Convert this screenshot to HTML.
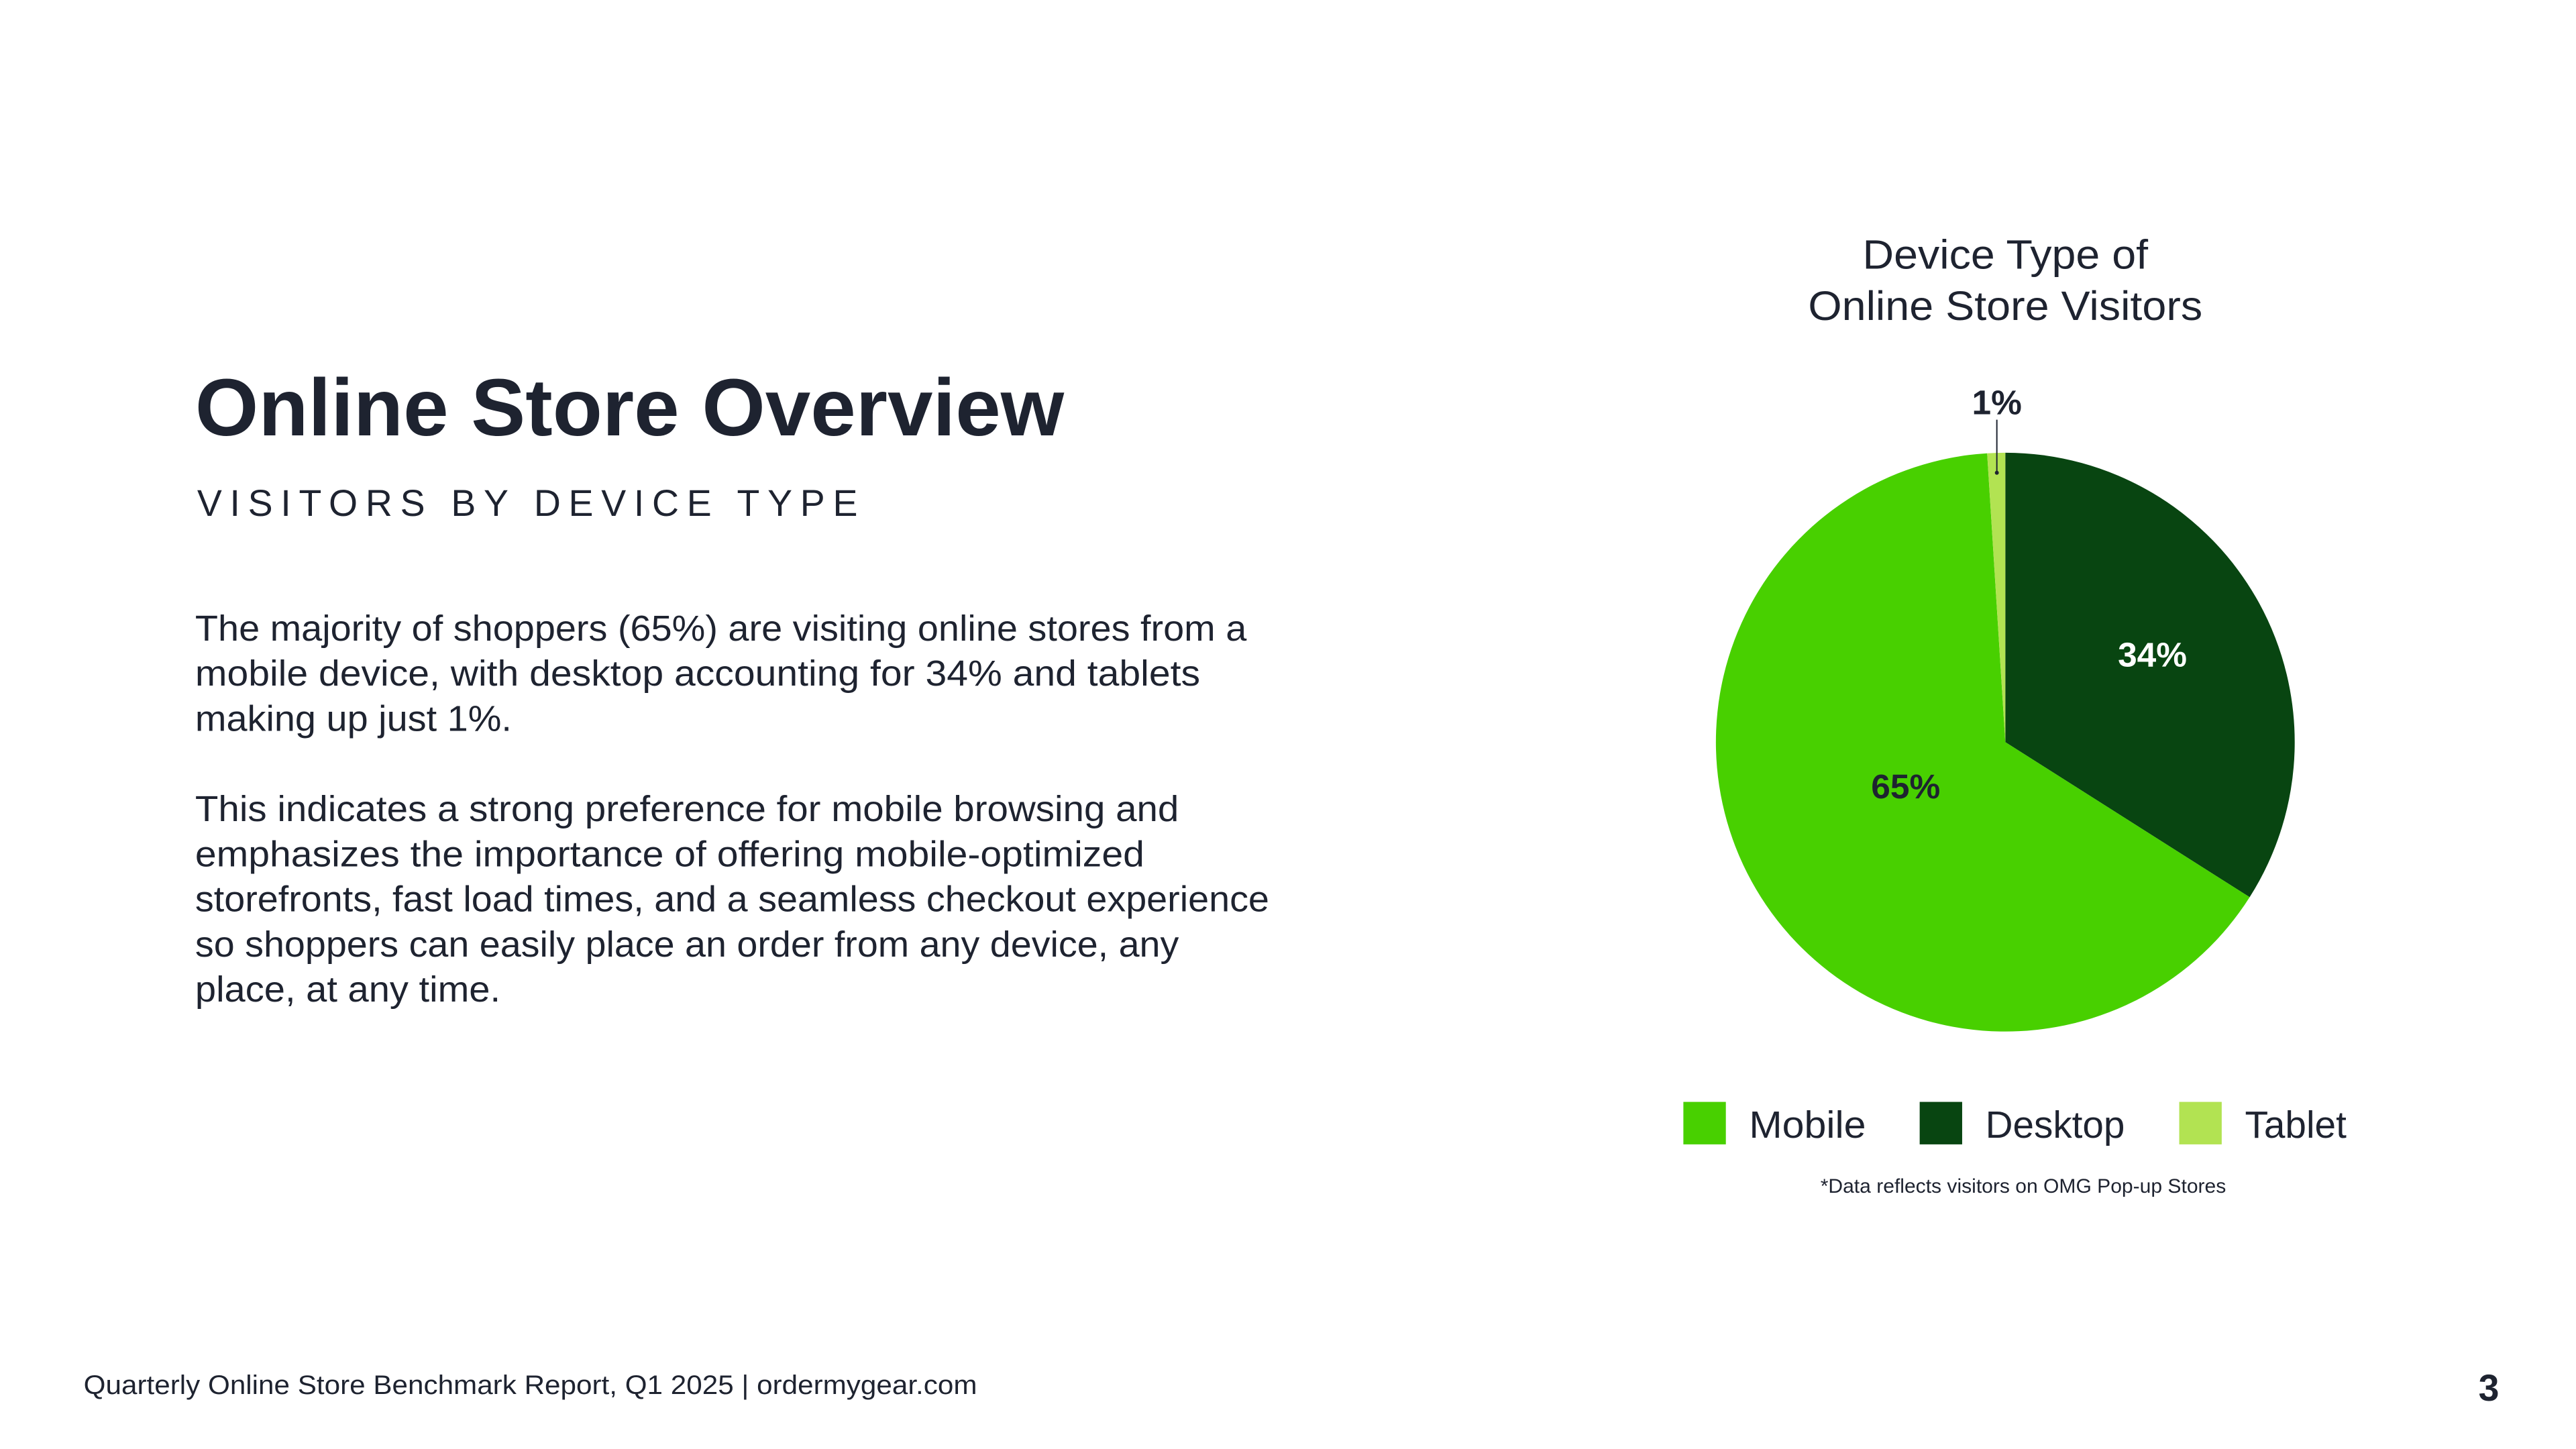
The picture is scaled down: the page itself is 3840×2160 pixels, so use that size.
<!DOCTYPE html>
<html><head><meta charset="utf-8"><style>
html,body{margin:0;padding:0;background:#fff;}
svg{display:block;font-family:"Liberation Sans",sans-serif;}
</style></head><body>
<svg id="page" width="3840" height="2160" viewBox="0 0 3840 2160" xmlns="http://www.w3.org/2000/svg">
<rect width="3840" height="2160" fill="#fff"/>
<g transform="scale(0.9895)">
<text x="294" y="656" font-size="122" font-weight="bold" fill="#1e2330" textLength="1309" lengthAdjust="spacingAndGlyphs">Online Store Overview</text>
<text x="297" y="777" font-size="56" fill="#1e2330" textLength="995" lengthAdjust="spacing">VISITORS BY DEVICE TYPE</text>
<g font-size="54" fill="#1e2330">
<text x="294" y="965" textLength="1584" lengthAdjust="spacingAndGlyphs">The majority of shoppers (65%) are visiting online stores from a</text>
<text x="294" y="1033" textLength="1514" lengthAdjust="spacingAndGlyphs">mobile device, with desktop accounting for 34% and tablets</text>
<text x="294" y="1101" textLength="477" lengthAdjust="spacingAndGlyphs">making up just 1%.</text>
</g>
<g font-size="54" fill="#1e2330">
<text x="294" y="1237" textLength="1482" lengthAdjust="spacingAndGlyphs">This indicates a strong preference for mobile browsing and</text>
<text x="294" y="1305" textLength="1430" lengthAdjust="spacingAndGlyphs">emphasizes the importance of offering mobile-optimized</text>
<text x="294" y="1373" textLength="1618" lengthAdjust="spacingAndGlyphs">storefronts, fast load times, and a seamless checkout experience</text>
<text x="294" y="1441" textLength="1482" lengthAdjust="spacingAndGlyphs">so shoppers can easily place an order from any device, any</text>
<text x="294" y="1509" textLength="460" lengthAdjust="spacingAndGlyphs">place, at any time.</text>
</g>
<text x="3021" y="405" text-anchor="middle" font-size="62" fill="#1e2330" textLength="430" lengthAdjust="spacingAndGlyphs">Device Type of</text>
<text x="3021" y="482" text-anchor="middle" font-size="62" fill="#1e2330" textLength="594" lengthAdjust="spacingAndGlyphs">Online Store Visitors</text>
<g id="pie"></g>
<g id="legend"></g>
<text x="3048" y="1797" text-anchor="middle" font-size="30" fill="#1e2330" textLength="611" lengthAdjust="spacingAndGlyphs">*Data reflects visitors on OMG Pop-up Stores</text>
<text x="126" y="2100" font-size="40" fill="#1e2330" textLength="1346" lengthAdjust="spacingAndGlyphs">Quarterly Online Store Benchmark Report, Q1 2025 | ordermygear.com</text>
<text x="3765" y="2110" text-anchor="end" font-size="56" font-weight="bold" fill="#1e2330">3</text>
</g>
</svg>
<script>
const categories = ["Mobile", "Desktop", "Tablet"];
const values = [65, 34, 1];
const valueLabels = ["65%", "34%", "1%"];
const colors = ["#48d000", "#084511", "#b2e352"];
const drawOrder = [1, 0, 2];

const NS = "http://www.w3.org/2000/svg";
const cx = 3021, cy = 1118, R = 436;
const labelFrac = {0: 0.40, 1: 0.58};
const labelDy = {0: -4, 1: 8};
const legendX = [2536, 2892, 3283];
const pie = document.getElementById('pie');
const legend = document.getElementById('legend');
const total = values.reduce((a, b) => a + b, 0);
function pt(frac, r) {
  const a = frac * 2 * Math.PI - Math.PI / 2;
  return [cx + r * Math.cos(a), cy + r * Math.sin(a)];
}
let acc = 0;
drawOrder.forEach(i => {
  const f0 = acc / total, f1 = (acc + values[i]) / total;
  acc += values[i];
  const p0 = pt(f0, R), p1 = pt(f1, R);
  const large = (f1 - f0) > 0.5 ? 1 : 0;
  const path = document.createElementNS(NS, 'path');
  path.setAttribute('d', `M${cx},${cy} L${p0[0]},${p0[1]} A${R},${R} 0 ${large} 1 ${p1[0]},${p1[1]} Z`);
  path.setAttribute('fill', colors[i]);
  
  
  pie.appendChild(path);
  const mid = (f0 + f1) / 2;
  const t = document.createElementNS(NS, 'text');
  t.textContent = valueLabels[i];
  t.setAttribute('font-size', '52');
  t.setAttribute('font-weight', 'bold');
  t.setAttribute('text-anchor', 'middle');
  
  
  if (labelFrac[i] !== undefined) {
    const lp = pt(mid, R * labelFrac[i]);
    t.setAttribute('x', lp[0]); t.setAttribute('y', lp[1] + labelDy[i]);
    t.setAttribute('fill', i === 1 ? '#ffffff' : '#1e2330');
  } else {
    const a = pt(mid, R - 30), b = pt(mid, R + 50);
    const ln = document.createElementNS(NS, 'line');
    ln.setAttribute('x1', a[0]); ln.setAttribute('y1', a[1]);
    ln.setAttribute('x2', a[0]); ln.setAttribute('y2', b[1]);
    ln.setAttribute('stroke', '#1e2330'); ln.setAttribute('stroke-width', '2');
    
    
    pie.appendChild(ln);
    const dot = document.createElementNS(NS, 'circle');
    dot.setAttribute('cx', a[0]); dot.setAttribute('cy', a[1]); dot.setAttribute('r', '3');
    dot.setAttribute('fill', '#1e2330');
    
    
    pie.appendChild(dot);
    t.setAttribute('x', a[0]); t.setAttribute('y', b[1] - 8);
    t.setAttribute('fill', '#1e2330');
  }
  pie.appendChild(t);
});
const lw = [176, 210, 153];
categories.forEach((c, i) => {
  const g = document.createElementNS(NS, 'g');
  
  
  const r = document.createElementNS(NS, 'rect');
  r.setAttribute('x', legendX[i]); r.setAttribute('y', 1660);
  r.setAttribute('width', 64); r.setAttribute('height', 64);
  r.setAttribute('fill', colors[i]);
  
  
  g.appendChild(r);
  const t = document.createElementNS(NS, 'text');
  t.textContent = c;
  t.setAttribute('x', legendX[i] + 99); t.setAttribute('y', 1714);
  t.setAttribute('font-size', '57'); t.setAttribute('fill', '#1e2330');
  t.setAttribute('textLength', lw[i]); t.setAttribute('lengthAdjust', 'spacingAndGlyphs');
  
  
  g.appendChild(t);
  legend.appendChild(g);
});
</script>
</body></html>
